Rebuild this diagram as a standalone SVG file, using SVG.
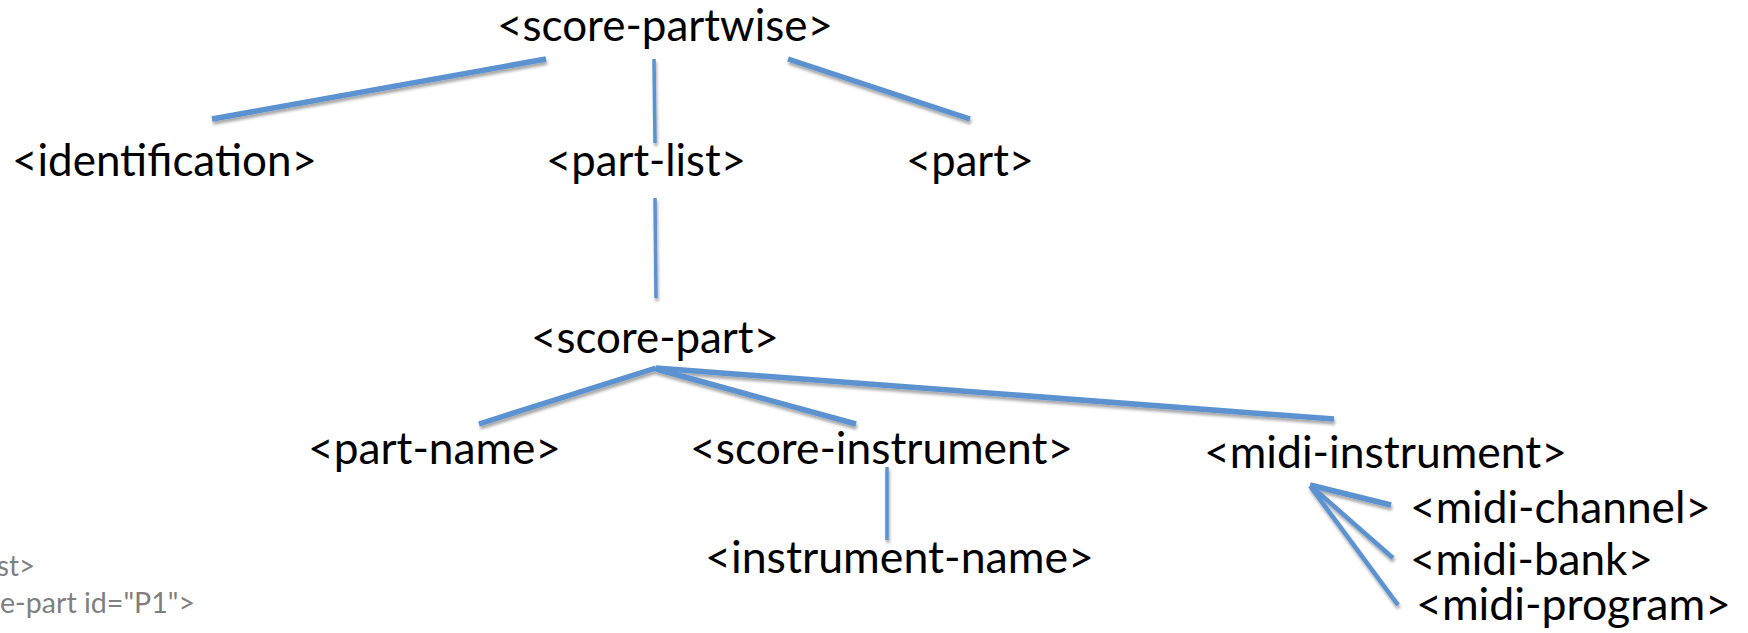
<svg xmlns="http://www.w3.org/2000/svg" width="1748" height="633" viewBox="0 0 1748 633">
  <style>
    .lbl { font-family: Lato, "Open Sans", "Liberation Sans", sans-serif; font-size: 44px; fill: #000; }
    .code { font-family: Lato, "Open Sans", "Liberation Sans", sans-serif; font-size: 29px; fill: #7f7f7f; }
    .edge { stroke: #5b92cf; fill: none; stroke-linecap: butt; }
    .w5 { stroke-width: 5.5; }
    .w4 { stroke-width: 4.5; }
    .w3 { stroke-width: 3.5; }
  </style>
  <defs>
    <filter id="shadow" x="-10%" y="-10%" width="120%" height="140%">
      <feGaussianBlur in="SourceAlpha" stdDeviation="1.6"/>
      <feOffset dx="1" dy="2.5" result="b"/>
      <feComponentTransfer><feFuncA type="linear" slope="0.35"/></feComponentTransfer>
      <feMerge><feMergeNode/><feMergeNode in="SourceGraphic"/></feMerge>
    </filter>
  </defs>
  <rect width="1748" height="633" fill="#ffffff"/>

  <g id="connectors" filter="url(#shadow)">
    <line class="edge w5" x1="546" y1="59" x2="212" y2="119"/>
    <line class="edge w3" x1="654" y1="59" x2="655" y2="143"/>
    <line class="edge w5" x1="788" y1="59" x2="970" y2="119"/>
    <line class="edge w3" x1="655" y1="198" x2="656" y2="298"/>
    <line class="edge w5" x1="656" y1="368" x2="479" y2="424"/>
    <line class="edge w5" x1="656" y1="369" x2="856" y2="424"/>
    <line class="edge w5" x1="656" y1="368" x2="1334" y2="419"/>
    <line class="edge w3" x1="887" y1="467" x2="887" y2="540"/>
    <line class="edge w5" x1="1310" y1="485" x2="1391" y2="505"/>
    <line class="edge w4" x1="1311" y1="486" x2="1393" y2="558"/>
    <line class="edge w4" x1="1310" y1="486" x2="1398" y2="605"/>
  </g>

  <g id="n-score-partwise"><text class="lbl" x="497" y="41" textLength="336" lengthAdjust="spacingAndGlyphs">&lt;score-partwise&gt;</text></g>
  <g id="n-identification"><text class="lbl" x="12" y="176" textLength="305" lengthAdjust="spacingAndGlyphs">&lt;identification&gt;</text></g>
  <g id="n-part-list"><text class="lbl" x="546" y="176" textLength="200" lengthAdjust="spacingAndGlyphs">&lt;part-list&gt;</text></g>
  <g id="n-part"><text class="lbl" x="906" y="176" textLength="128" lengthAdjust="spacingAndGlyphs">&lt;part&gt;</text></g>
  <g id="n-score-part"><text class="lbl" x="531" y="353" textLength="248" lengthAdjust="spacingAndGlyphs">&lt;score-part&gt;</text></g>
  <g id="n-part-name"><text class="lbl" x="308" y="464" textLength="253" lengthAdjust="spacingAndGlyphs">&lt;part-name&gt;</text></g>
  <g id="n-score-instrument"><text class="lbl" x="690" y="464" textLength="383" lengthAdjust="spacingAndGlyphs">&lt;score-instrument&gt;</text></g>
  <g id="n-midi-instrument"><text class="lbl" x="1204" y="468" textLength="363" lengthAdjust="spacingAndGlyphs">&lt;midi-instrument&gt;</text></g>
  <g id="n-instrument-name"><text class="lbl" x="705" y="573" textLength="389" lengthAdjust="spacingAndGlyphs">&lt;instrument-name&gt;</text></g>
  <g id="n-midi-channel"><text class="lbl" x="1410" y="523" textLength="301" lengthAdjust="spacingAndGlyphs">&lt;midi-channel&gt;</text></g>
  <g id="n-midi-bank"><text class="lbl" x="1410" y="575" textLength="243" lengthAdjust="spacingAndGlyphs">&lt;midi-bank&gt;</text></g>
  <g id="n-midi-program"><text class="lbl" x="1416" y="620" textLength="315" lengthAdjust="spacingAndGlyphs">&lt;midi-program&gt;</text></g>

  <g id="code-fragment">
    <text class="code" x="-3" y="576" textLength="38" lengthAdjust="spacingAndGlyphs">st&gt;</text>
    <text class="code" x="0" y="613" textLength="195" lengthAdjust="spacingAndGlyphs">e-part id="P1"&gt;</text>
  </g>
</svg>
